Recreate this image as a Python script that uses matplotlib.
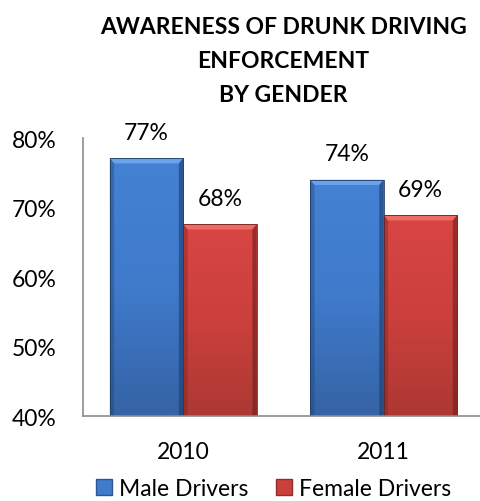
import numpy as np
import matplotlib
matplotlib.use("Agg")
import matplotlib.pyplot as plt
from matplotlib.patches import Polygon, Patch
from matplotlib.colors import LinearSegmentedColormap

# data
years = ["2010", "2011"]
male = [77.1, 74.0]
female = [67.6, 68.9]
series_names = ["Male Drivers", "Female Drivers"]
yticks = [40, 50, 60, 70, 80]

plt.rcParams['font.family'] = ['Lato', 'DejaVu Sans']

fig = plt.figure(figsize=(4.8, 5.02), dpi=100)
ax = fig.add_axes([0.173, 0.169, 0.835, 0.554])

x = np.arange(len(years))
w = 0.367
base = yticks[0]  # bars start at the axis floor

blue_cmap = LinearSegmentedColormap.from_list("b", ["#3563a5", "#3f7acb", "#4582d4"])
red_cmap = LinearSegmentedColormap.from_list("r", ["#ad3833", "#cb403c", "#d84643"])


def gradient_bars(bars, cmap, top_col, side_col):
    grad = np.linspace(0, 1, 256).reshape(-1, 1)
    for b in bars:
        x0, y0 = b.get_x(), b.get_y()
        bw, bh = b.get_width(), b.get_height()
        im = ax.imshow(grad, cmap=cmap, aspect='auto', origin='lower',
                       extent=[x0, x0 + bw, y0, y0 + bh], zorder=2)
        im.set_clip_path(b)
        b.set_facecolor('none')
        # bevel: light top band, darker side strips
        dx, dy = 0.022, 0.75
        top = Polygon([[x0, y0 + bh], [x0 + bw, y0 + bh],
                       [x0 + bw - dx, y0 + bh - dy], [x0 + dx, y0 + bh - dy]],
                      closed=True, facecolor=top_col, edgecolor='none', zorder=3)
        left = Polygon([[x0, y0], [x0, y0 + bh], [x0 + dx, y0 + bh - dy], [x0 + dx, y0]],
                       closed=True, facecolor=side_col, edgecolor='none', alpha=0.35, zorder=3)
        right = Polygon([[x0 + bw, y0], [x0 + bw, y0 + bh], [x0 + bw - dx, y0 + bh - dy],
                         [x0 + bw - dx, y0]],
                        closed=True, facecolor=side_col, edgecolor='none', alpha=0.6, zorder=3)
        for p in (top, left, right):
            ax.add_patch(p)


b1 = ax.bar(x - w / 2, np.array(male) - base, w, bottom=base,
            edgecolor='#1f3d66', linewidth=0.6, zorder=4)
b2 = ax.bar(x + w / 2, np.array(female) - base, w, bottom=base,
            edgecolor='#6e2422', linewidth=0.6, zorder=4)
gradient_bars(b1, blue_cmap, "#6aa3ea", "#1d3c6b")
gradient_bars(b2, red_cmap, "#ee6b66", "#6e1f1c")

for rects, vals in ((b1, male), (b2, female)):
    for r, v in zip(rects, vals):
        ax.text(r.get_x() + r.get_width() / 2, v + 3.75, f"{v:.0f}%",
                ha='center', va='center', fontsize=16.5, color='black')

ax.set_xlim(-0.5, 1.5)
ax.set_ylim(40, 80)
ax.set_yticks(yticks)
ax.set_yticklabels([f"{t}%" for t in yticks])
ax.set_xticks(x)
ax.set_xticklabels(years)
ax.tick_params(axis='y', length=0, pad=19, labelsize=16.5)
ax.tick_params(axis='x', length=0, pad=18, labelsize=16.5)
for s in ('top', 'right'):
    ax.spines[s].set_visible(False)
for s in ('left', 'bottom'):
    ax.spines[s].set_color('#8c8c8c')
    ax.spines[s].set_linewidth(1.2)
    ax.spines[s].set_zorder(5)

fig.text(0.59, 0.967, "AWARENESS OF DRUNK DRIVING\nENFORCEMENT\nBY GENDER",
         ha='center', va='top', fontsize=16.5, fontweight='bold', linespacing=1.78)

handles = [Patch(facecolor="#3f7acb", edgecolor="#2c5792"),
           Patch(facecolor="#cb403c", edgecolor="#8e2f2c")]
fig.legend(handles, series_names, loc='center', bbox_to_anchor=(0.57, 0.024),
           ncol=2, frameon=False, fontsize=16.5, handlelength=0.7, handleheight=0.7,
           handletextpad=0.3, columnspacing=1.2, borderpad=0.2)

fig.savefig("out.png", dpi=100)
